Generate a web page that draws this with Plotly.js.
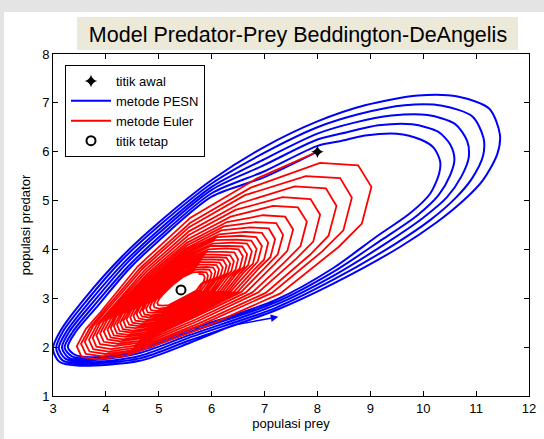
<!DOCTYPE html>
<html>
<head>
<meta charset="utf-8">
<script src="https://cdn.plot.ly/plotly-3.0.1.min.js"></script>
<style>html,body{margin:0;padding:0;background:#fff;}#chart{width:544px;height:439px;}</style>
</head>
<body>
<div id="chart"></div>
<script>
// ---- data ----
var titleText = "Model Predator-Prey Beddington-DeAngelis";
var xLabel = "populasi prey";
var yLabel = "populasi predator";
var xTicks = [3, 4, 5, 6, 7, 8, 9, 10, 11, 12];
var yTicks = [1, 2, 3, 4, 5, 6, 7, 8];
var legendNames = ["titik awal", "metode PESN", "metode Euler", "titik tetap"];

var startX = [8.0];
var startY = [6.0];
var fixedX = [5.42];
var fixedY = [3.17];

// PESN trajectory (blue)
var pesnX = [
 8.00,7.00,6.00,5.00,4.42,3.85,3.42,3.28,3.42,3.85,4.64,5.59,7.20,8.30,
 9.10,9.75,10.13,10.30,10.32,10.20,9.95,9.50,8.90,8.45,
 8.00,7.00,6.00,5.00,4.40,3.80,3.37,3.22,3.36,3.78,4.64,5.59,7.20,8.30,
 9.22,9.88,10.29,10.51,10.59,10.51,10.28,9.79,9.15,8.56,
 8.00,7.00,6.00,5.00,4.37,3.75,3.31,3.17,3.30,3.71,4.64,5.59,7.20,8.30,
 9.33,10.00,10.45,10.72,10.86,10.83,10.60,10.08,9.40,8.68,
 8.00,7.00,6.00,5.00,4.35,3.70,3.26,3.11,3.24,3.64,4.64,5.59,7.20,8.30,
 9.45,10.13,10.60,10.92,11.13,11.14,10.93,10.36,9.65,8.79,
 8.00,7.00,6.00,5.00,4.32,3.65,3.20,3.06,3.18,3.57,4.64,5.59,7.20,8.30,
 9.56,10.25,10.76,11.13,11.40,11.45,11.25,10.65,9.90,8.90,
 8.00,7.00,6.00,5.00,4.30,3.60,3.15,3.00,3.12,3.50,4.64,5.59,6.41
];
var pesnY = [
 6.00,5.48,5.08,4.18,3.58,2.85,2.30,2.00,1.84,1.80,1.98,2.36,2.96,3.62,
 4.25,4.74,5.14,5.55,5.80,6.08,6.25,6.37,6.33,6.22,
 6.12,5.60,5.15,4.25,3.63,2.88,2.31,1.99,1.81,1.76,1.93,2.31,2.91,3.54,
 4.20,4.69,5.11,5.52,5.84,6.15,6.41,6.56,6.54,6.40,
 6.25,5.73,5.22,4.33,3.69,2.91,2.32,1.99,1.78,1.73,1.88,2.25,2.86,3.46,
 4.15,4.65,5.07,5.49,5.88,6.22,6.57,6.75,6.74,6.59,
 6.37,5.85,5.28,4.40,3.74,2.94,2.33,1.98,1.76,1.69,1.82,2.20,2.80,3.38,
 4.10,4.60,5.04,5.45,5.91,6.28,6.72,6.94,6.95,6.77,
 6.50,5.98,5.35,4.48,3.80,2.97,2.34,1.98,1.73,1.66,1.77,2.14,2.75,3.30,
 4.05,4.55,5.00,5.42,5.95,6.35,6.88,7.13,7.15,6.95,
 6.62,6.10,5.42,4.55,3.85,3.00,2.35,1.97,1.70,1.62,1.72,2.09,2.45
];
var arrowTail = [6.41, 2.45];
var arrowTip = [7.26, 2.62];

// Euler trajectory (red), one row per revolution
var eulerX = [
 8.00,
 6.85,5.60,4.60,3.90,3.62,3.45,3.54,3.87,4.40,5.80,7.30,8.40,8.84,9.02,8.77,8.05,
 6.73,5.59,4.65,3.96,3.70,3.53,3.62,3.94,4.44,5.77,7.14,8.09,8.49,8.65,8.43,7.78,
 6.63,5.58,4.69,4.02,3.76,3.60,3.69,3.99,4.48,5.75,7.02,7.86,8.21,8.36,8.16,7.57,
 6.53,5.57,4.73,4.08,3.83,3.68,3.76,4.05,4.52,5.73,6.88,7.60,7.92,8.05,7.87,7.34,
 6.45,5.56,4.77,4.13,3.89,3.75,3.82,4.10,4.55,5.71,6.77,7.39,7.68,7.80,7.63,7.16,
 6.36,5.55,4.81,4.18,3.96,3.82,3.89,4.16,4.59,5.69,6.65,7.18,7.43,7.54,7.39,6.97,
 6.29,5.54,4.84,4.24,4.02,3.89,3.96,4.22,4.63,5.67,6.56,7.02,7.25,7.35,7.22,6.83,
 6.23,5.53,4.87,4.30,4.09,3.96,4.03,4.27,4.67,5.65,6.49,6.89,7.11,7.20,7.08,6.72,
 6.18,5.53,4.90,4.34,4.15,4.03,4.09,4.32,4.70,5.64,6.42,6.79,6.99,7.07,6.95,6.63,
 6.14,5.52,4.93,4.39,4.20,4.09,4.15,4.37,4.73,5.63,6.36,6.69,6.87,6.95,6.84,6.54,
 6.10,5.51,4.95,4.44,4.26,4.15,4.21,4.42,4.76,5.62,6.31,6.60,6.78,6.85,6.75,6.46,
 6.06,5.51,4.98,4.49,4.31,4.21,4.26,4.47,4.79,5.61,6.26,6.53,6.69,6.76,6.67,6.40,
 6.02,5.50,5.00,4.53,4.37,4.27,4.32,4.52,4.83,5.60,6.21,6.45,6.61,6.67,6.58,6.33,
 5.98,5.50,5.02,4.58,4.43,4.33,4.38,4.56,4.86,5.59,6.16,6.39,6.53,6.59,6.51,6.28,
 5.94,5.49,5.05,4.63,4.48,4.39,4.44,4.61,4.89,5.58,6.11,6.31,6.45,6.50,6.43,6.21,
 5.91,5.49,5.07,4.68,4.54,4.46,4.50,4.66,4.92,5.57,6.06,6.25,6.37,6.42,6.35,6.15,
 5.88,5.48,5.09,4.72,4.60,4.52,4.56,4.71,4.95,5.56,6.02,6.19,6.30,6.35,6.28,6.10,
 5.84,5.48,5.12,4.77,4.65,4.58,4.62,4.76,4.98,5.55,5.98,6.13,6.24,6.28,6.22,6.05,
 5.81,5.48,5.14,4.82,4.71,4.64,4.68,4.81,5.02,5.54,5.93,6.07,6.17,6.21,6.15,6.00,
 5.78,5.47,5.16,4.87,4.76,4.70,4.73,4.85,5.05,5.53,5.89,6.02,6.10,6.14,6.09,5.95,
 5.75,5.47,5.19,4.91,4.82,4.76,4.79,4.90,5.08,5.52,5.85,5.96,6.04,6.07,6.03,5.90,
 5.71,5.46,5.21,4.96,4.88,4.83,4.85,4.95,5.11,5.51,5.80,5.90,5.97,6.00,5.96,5.84,
 5.68,5.46,5.23,5.02,4.94,4.90,4.92,5.01,5.15,5.50,5.76,5.84,5.91,5.93,5.90,5.79,
 5.64,5.45,5.26,5.07,5.01,4.97,4.99,5.07,5.19,5.49,5.71,5.79,5.85,5.87,5.84,5.75
];
var eulerY = [
 6.00,
 5.45,4.65,3.65,2.72,2.37,2.02,1.80,1.75,1.83,2.38,3.10,4.05,4.53,5.28,5.72,5.77,
 5.26,4.54,3.62,2.74,2.40,2.07,1.86,1.81,1.89,2.44,3.11,3.96,4.39,5.06,5.46,5.50,
 5.11,4.46,3.60,2.76,2.43,2.11,1.91,1.86,1.93,2.48,3.11,3.89,4.28,4.89,5.25,5.29,
 4.94,4.37,3.57,2.77,2.46,2.15,1.96,1.91,1.98,2.53,3.12,3.81,4.16,4.71,5.03,5.07,
 4.81,4.29,3.55,2.79,2.49,2.19,2.01,1.96,2.03,2.57,3.12,3.75,4.07,4.57,4.86,4.89,
 4.67,4.21,3.53,2.80,2.52,2.24,2.06,2.02,2.08,2.62,3.12,3.69,3.97,4.41,4.67,4.70,
 4.56,4.14,3.51,2.82,2.55,2.28,2.11,2.07,2.13,2.65,3.13,3.64,3.90,4.30,4.54,4.56,
 4.47,4.08,3.49,2.84,2.58,2.32,2.16,2.12,2.18,2.68,3.13,3.61,3.84,4.21,4.43,4.45,
 4.39,4.03,3.47,2.85,2.60,2.36,2.20,2.16,2.22,2.71,3.13,3.57,3.79,4.14,4.34,4.36,
 4.31,3.99,3.46,2.87,2.63,2.39,2.24,2.21,2.26,2.74,3.14,3.54,3.75,4.07,4.25,4.28,
 4.25,3.94,3.44,2.88,2.65,2.43,2.28,2.25,2.30,2.76,3.14,3.52,3.71,4.01,4.18,4.20,
 4.19,3.90,3.43,2.89,2.68,2.46,2.33,2.30,2.35,2.78,3.14,3.50,3.68,3.96,4.12,4.14,
 4.12,3.86,3.42,2.91,2.70,2.50,2.37,2.34,2.39,2.80,3.14,3.48,3.64,3.90,4.06,4.07,
 4.07,3.82,3.40,2.92,2.73,2.54,2.41,2.39,2.43,2.82,3.14,3.46,3.61,3.86,4.00,4.02,
 4.00,3.78,3.39,2.94,2.75,2.57,2.46,2.43,2.47,2.85,3.14,3.43,3.58,3.80,3.94,3.95,
 3.95,3.74,3.37,2.95,2.78,2.61,2.50,2.47,2.51,2.87,3.15,3.42,3.55,3.76,3.88,3.89,
 3.90,3.70,3.36,2.96,2.80,2.64,2.54,2.52,2.56,2.89,3.15,3.40,3.52,3.71,3.83,3.84,
 3.84,3.66,3.35,2.98,2.83,2.68,2.59,2.56,2.60,2.91,3.15,3.38,3.50,3.67,3.78,3.79,
 3.79,3.63,3.34,2.99,2.85,2.71,2.63,2.61,2.64,2.93,3.15,3.36,3.47,3.63,3.73,3.74,
 3.74,3.59,3.32,3.01,2.88,2.75,2.67,2.65,2.68,2.95,3.15,3.35,3.44,3.59,3.68,3.69,
 3.69,3.55,3.31,3.02,2.90,2.79,2.71,2.70,2.72,2.97,3.15,3.33,3.42,3.55,3.63,3.64,
 3.63,3.51,3.30,3.03,2.93,2.82,2.76,2.74,2.77,2.99,3.16,3.31,3.39,3.51,3.58,3.59,
 3.58,3.47,3.28,3.05,2.96,2.86,2.81,2.79,2.81,3.01,3.16,3.30,3.36,3.47,3.53,3.54,
 3.53,3.43,3.27,3.07,2.99,2.91,2.86,2.85,2.86,3.03,3.16,3.28,3.34,3.43,3.49,3.50
];

// ---- plot ----
var FONT = "Arial, 'Liberation Sans', sans-serif";
var traces = [
  {x: pesnX, y: pesnY, mode: "lines", name: legendNames[1], legendrank: 2,
   line: {color: "#0000ff", width: 2, shape: "spline", smoothing: 0.8}},
  {x: eulerX, y: eulerY, mode: "lines", name: legendNames[2], legendrank: 3,
   line: {color: "#ff0000", width: 1.8}},
  {x: startX, y: startY, mode: "markers", name: legendNames[0], legendrank: 1,
   marker: {symbol: "star-diamond", size: 9, color: "#000000"}},
  {x: fixedX, y: fixedY, mode: "markers", name: legendNames[3], legendrank: 4,
   marker: {symbol: "circle-open", size: 9, color: "#000000", line: {width: 2, color: "#000000"}}}
];

function px2paperX(p) { return (p - 53) / 476; }
function px2paperY(p) { return (396 - p) / 342; }

var layout = {
  width: 544, height: 439, autosize: false,
  margin: {l: 53, r: 15, t: 54, b: 43, pad: 0},
  paper_bgcolor: "#ffffff", plot_bgcolor: "#ffffff",
  font: {family: FONT, size: 13, color: "#000000"},
  title: {text: titleText, font: {family: FONT, size: 21.5, color: "#000000"},
          xref: "container", x: 298 / 544, xanchor: "center",
          yref: "container", y: 1 - 34 / 439, yanchor: "middle"},
  xaxis: {range: [3, 12], tickvals: xTicks, ticks: "inside", ticklen: 5, tickcolor: "#000",
          showline: true, linecolor: "#000", linewidth: 1, mirror: "ticks",
          showgrid: false, zeroline: false, fixedrange: true,
          tickfont: {family: FONT, size: 13, color: "#000"},
          title: {text: xLabel, font: {family: FONT, size: 13, color: "#000"}, standoff: 4}},
  yaxis: {range: [1, 8], tickvals: yTicks, ticks: "inside", ticklen: 5, tickcolor: "#000",
          showline: true, linecolor: "#000", linewidth: 1, mirror: "ticks",
          showgrid: false, zeroline: false, fixedrange: true,
          tickfont: {family: FONT, size: 13, color: "#000"},
          title: {text: yLabel, font: {family: FONT, size: 13, color: "#000"}, standoff: 8}},
  showlegend: true,
  legend: {x: px2paperX(65), y: px2paperY(65), xanchor: "left", yanchor: "top",
           bgcolor: "#ffffff", bordercolor: "#000000", borderwidth: 1,
           font: {family: FONT, size: 13, color: "#000"}, tracegroupgap: 0, itemwidth: 40},
  shapes: [
    {type: "rect", xref: "paper", yref: "paper", layer: "below",
     x0: px2paperX(77), x1: px2paperX(518), y0: px2paperY(50), y1: px2paperY(17),
     fillcolor: "#ece9d8", line: {width: 0}},
    {type: "rect", xref: "paper", yref: "paper", layer: "below",
     x0: px2paperX(0), x1: px2paperX(544), y0: px2paperY(12), y1: px2paperY(0),
     fillcolor: "#e4e4e4", line: {width: 0}},
    {type: "rect", xref: "paper", yref: "paper", layer: "below",
     x0: px2paperX(0), x1: px2paperX(4), y0: px2paperY(439), y1: px2paperY(0),
     fillcolor: "#e4e4e4", line: {width: 0}}
  ],
  annotations: [
    {x: arrowTip[0], y: arrowTip[1], ax: arrowTail[0], ay: arrowTail[1],
     xref: "x", yref: "y", axref: "x", ayref: "y", text: "",
     showarrow: true, arrowhead: 2, arrowsize: 1, arrowwidth: 1.5, arrowcolor: "#0000ff"}
  ]
};

Plotly.newPlot("chart", traces, layout, {displayModeBar: false, staticPlot: true});
</script>
</body>
</html>
